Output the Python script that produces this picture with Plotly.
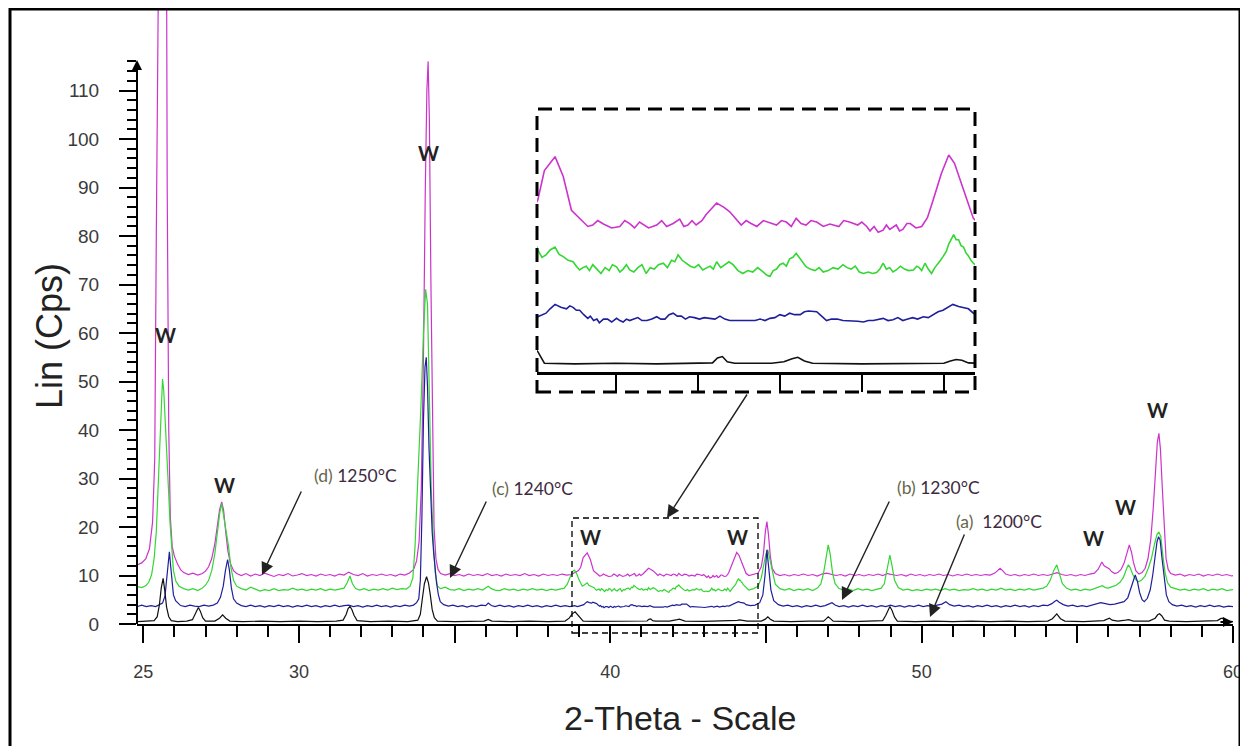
import plotly.graph_objects as go

# ---------------- data (2-theta in degrees, intensity in Cps) ----------------
d_1250 = [(24.82,12.2),(24.95,12.6),(25.08,13.4),(25.2,15.5),(25.3,21.0),(25.37,34.0),(25.42,80.0),(25.46,180.0),(25.55,260.0),(25.65,260.0),(25.73,180.0),(25.77,90.0),(25.82,40.0),(25.87,22.0),(25.93,16.0),(26.0,14.0),(26.1,12.4),(26.2,11.2),(26.3,10.6),(26.45,10.2),(26.6,10.5),(26.75,10.1),(26.9,10.4),(27.0,10.9),(27.1,11.8),(27.2,13.5),(27.3,16.5),(27.38,20.0),(27.45,23.5),(27.52,25.2),(27.58,23.5),(27.65,19.0),(27.72,15.0),(27.8,12.5),(27.9,11.0),(28.0,10.4),(28.15,10.0),(28.3,10.4),(28.45,9.9),(28.6,10.3),(28.75,10.0),(28.9,10.5),(29.05,10.1),(29.2,9.8),(29.35,10.2),(29.5,10.0),(29.65,10.4),(29.8,9.9),(29.95,10.1),(30.1,10.4),(30.25,10.0),(30.4,10.2),(30.55,9.9),(30.7,10.3),(30.85,10.0),(31.0,10.2),(31.15,9.9),(31.3,10.3),(31.45,10.1),(31.6,10.7),(31.75,10.2),(31.9,10.0),(32.05,10.4),(32.2,9.9),(32.35,10.2),(32.5,10.0),(32.65,10.3),(32.8,10.0),(32.95,10.2),(33.1,9.9),(33.25,10.3),(33.4,10.1),(33.55,10.5),(33.68,11.2),(33.78,13.0),(33.86,17.0),(33.93,28.0),(34.0,55.0),(34.06,90.0),(34.11,110.0),(34.15,116.0),(34.19,104.0),(34.24,70.0),(34.29,38.0),(34.34,20.0),(34.4,13.5),(34.47,11.2),(34.55,10.4),(34.7,10.1),(34.85,10.4),(35.0,10.0),(35.15,10.2),(35.3,9.9),(35.45,10.3),(35.6,10.0),(35.75,10.2),(35.9,10.0),(36.05,10.4),(36.2,10.0),(36.35,10.2),(36.5,9.9),(36.65,10.3),(36.8,10.0),(36.95,10.2),(37.1,10.0),(37.25,10.4),(37.4,10.0),(37.55,10.2),(37.7,9.9),(37.85,10.3),(38.0,10.0),(38.15,10.2),(38.3,10.0),(38.45,10.3),(38.6,10.1),(38.75,10.2),(38.88,10.6),(38.98,11.0),
          (39.05,11.7),(39.13,13.7),(39.26,14.65),(39.36,13.3),(39.46,11.0),(39.6,10.2),(39.66,9.9),(39.72,10.0),(39.78,10.3),(39.85,10.07),(39.95,9.8),(40.05,9.9),(40.11,10.3),(40.17,10.1),(40.23,9.8),(40.29,10.2),(40.35,10.0),(40.4,9.8),(40.5,10.0),(40.56,10.3),(40.62,9.9),(40.7,10.1),(40.78,10.4),(40.83,9.9),(40.88,10.0),(40.93,10.3),(40.98,10.0),(41.05,10.3),(41.1,10.7),(41.23,11.5),(41.32,11.2),(41.39,10.9),(41.53,10.0),(41.59,10.3),(41.65,10.1),(41.72,9.9),(41.8,10.3),(41.9,10.1),(41.96,10.0),(42.02,10.3),(42.08,10.2),(42.14,9.9),(42.2,10.45),(42.26,10.1),(42.32,10.0),(42.38,10.3),(42.45,10.2),(42.53,9.9),(42.61,10.07),(42.72,9.9),(42.78,10.3),(42.85,10.2),(42.95,10.0),(43.0,10.2),(43.06,9.9),(43.1,9.6),(43.15,9.9),(43.2,9.5),(43.26,9.65),(43.3,10.0),(43.34,9.7),(43.42,10.0),(43.46,9.6),(43.5,9.7),(43.55,10.1),(43.59,10.1),(43.66,9.8),(43.73,9.9),(43.8,10.5),(43.87,11.7),(43.97,13.5),(44.06,14.76),(44.13,14.2),(44.24,12.4),(44.36,10.45),
          (44.45,10.0),(44.6,10.2),(44.75,10.5),(44.85,11.8),(44.92,14.5),(44.98,19.0),(45.03,21.1),(45.08,18.5),(45.14,14.0),(45.2,11.5),(45.3,10.4),(45.45,10.0),(45.6,10.2),(45.75,9.9),(45.9,10.2),(46.05,10.0),(46.2,10.3),(46.35,10.0),(46.5,10.2),(46.65,9.9),(46.8,10.3),(46.95,10.5),(47.1,10.2),(47.25,10.0),(47.4,10.2),(47.55,9.9),(47.7,10.3),(47.85,10.0),(48.0,10.2),(48.15,9.9),(48.3,10.2),(48.45,10.0),(48.6,10.3),(48.75,10.0),(48.9,10.4),(49.05,10.2),(49.2,10.0),(49.35,10.2),(49.5,9.9),(49.65,10.3),(49.8,10.0),(49.95,10.2),(50.1,9.9),(50.25,10.2),(50.4,10.0),(50.55,10.3),(50.7,10.0),(50.85,10.2),(51.0,9.9),(51.15,10.2),(51.3,10.0),(51.45,10.3),(51.6,10.0),(51.75,10.2),(51.9,10.0),(52.05,10.2),(52.2,10.1),(52.35,10.5),(52.45,11.1),(52.52,11.5),(52.6,11.0),(52.7,10.3),(52.85,10.0),(53.0,10.2),(53.15,9.9),(53.3,10.2),(53.45,10.0),(53.6,10.3),(53.75,10.0),(53.9,10.2),(54.05,10.0),(54.2,10.3),(54.35,10.6),(54.5,10.2),(54.65,10.0),(54.8,10.2),(54.95,9.9),(55.1,10.2),(55.25,10.0),(55.4,10.3),(55.55,10.5),(55.67,11.3),(55.74,12.4),(55.79,12.8),(55.86,12.0),(55.95,11.6),(56.02,11.4),(56.1,10.8),(56.2,10.4),(56.3,10.6),(56.4,11.2),(56.5,12.5),(56.58,14.5),(56.67,16.3),(56.74,14.8),(56.8,12.8),(56.88,11.0),(56.98,10.3),(57.08,10.6),(57.18,11.5),(57.27,13.5),(57.36,17.5),(57.44,24.0),(57.51,32.0),(57.57,37.5),(57.62,39.3),(57.67,36.0),(57.73,28.0),(57.79,19.0),(57.85,13.5),(57.92,11.2),(58.0,10.4),(58.15,10.1),(58.3,10.3),(58.45,9.9),(58.6,10.2),(58.75,10.0),(58.9,10.3),(59.05,9.9),(59.2,10.2),(59.35,10.0),(59.5,10.3),(59.65,10.0),(59.8,10.2),(59.95,9.9),(60.0,10.0)]

c_1240 = [(24.82,7.7),(24.95,7.5),(25.08,7.9),(25.18,8.6),(25.27,10.2),(25.35,13.5),(25.42,19.0),(25.48,28.0),(25.54,38.0),(25.59,46.0),(25.62,50.5),(25.66,48.0),(25.71,42.0),(25.76,35.0),(25.81,28.0),(25.86,21.0),(25.91,15.3),(25.97,11.0),(26.05,8.8),(26.15,7.8),(26.3,7.3),(26.45,7.0),(26.6,7.3),(26.75,6.9),(26.9,7.4),(27.0,8.0),(27.1,9.0),(27.2,11.0),(27.3,14.5),(27.38,18.7),(27.46,23.0),(27.52,24.8),(27.58,22.5),(27.66,19.0),(27.74,16.0),(27.82,11.5),(27.9,9.0),(28.0,7.8),(28.15,7.3),(28.3,7.0),(28.45,7.6),(28.6,7.2),(28.75,6.8),(28.9,7.1),(29.05,6.9),(29.2,7.3),(29.35,6.9),(29.5,7.1),(29.65,7.0),(29.8,7.4),(29.95,7.0),(30.1,7.2),(30.25,6.9),(30.4,7.2),(30.55,7.0),(30.7,7.3),(30.85,6.9),(31.0,7.2),(31.15,7.0),(31.3,7.2),(31.45,7.4),(31.55,8.5),(31.64,9.9),(31.72,8.3),(31.82,7.3),(31.95,7.0),(32.1,7.3),(32.25,6.9),(32.4,7.2),(32.55,7.0),(32.7,7.3),(32.85,7.0),(33.0,7.4),(33.15,7.1),(33.3,7.3),(33.45,7.2),(33.57,7.8),(33.66,9.5),(33.73,16.0),(33.78,24.0),(33.85,33.0),(33.92,45.0),(34.0,60.0),(34.07,69.0),(34.13,66.0),(34.19,48.0),(34.25,28.0),(34.32,16.6),(34.38,10.5),(34.45,7.8),(34.55,7.3),(34.7,7.6),(34.85,7.1),(35.0,7.0),(35.15,7.3),(35.3,6.9),(35.45,7.2),(35.6,7.0),(35.75,7.3),(35.9,7.0),(36.0,7.4),(36.08,7.8),(36.18,7.3),(36.3,7.0),(36.45,6.9),(36.6,7.3),(36.75,7.0),(36.9,7.2),(37.05,6.9),(37.2,7.2),(37.35,7.0),(37.5,7.3),(37.65,7.0),(37.8,7.2),(37.95,6.9),(38.1,7.2),(38.25,7.0),(38.4,7.3),(38.52,7.4),(38.62,8.2),(38.7,9.5),(38.78,10.8),(38.85,11.1),(38.92,10.4),(38.99,9.2),
          (39.05,8.3),(39.1,7.8),(39.15,7.97),(39.2,8.3),(39.26,8.5),(39.31,8.0),(39.36,7.85),(39.42,7.6),(39.48,7.5),(39.52,7.2),(39.56,6.94),(39.6,7.1),(39.64,7.2),(39.68,6.9),(39.72,7.3),(39.77,7.0),(39.82,6.7),(39.87,7.1),(39.92,6.9),(39.96,7.3),(40.01,7.16),(40.05,6.8),(40.09,7.0),(40.13,7.3),(40.17,6.94),(40.22,6.8),(40.27,7.1),(40.32,7.3),(40.37,6.7),(40.42,7.1),(40.47,7.0),(40.52,7.3),(40.58,7.4),(40.63,7.1),(40.68,7.6),(40.72,7.5),(40.76,7.97),(40.81,7.6),(40.86,7.4),(40.91,7.2),(40.96,7.1),(41.01,7.3),(41.06,6.94),(41.11,7.1),(41.15,7.2),(41.19,7.0),(41.23,7.5),(41.28,7.1),(41.33,7.3),(41.38,7.5),(41.43,7.3),(41.49,6.9),(41.55,6.7),(41.61,6.9),(41.67,6.8),(41.73,7.1),(41.8,6.8),(41.84,6.6),(41.88,6.5),(41.92,6.9),(41.96,7.0),(42.0,7.3),(42.04,7.4),(42.08,7.2),(42.12,7.7),(42.16,7.8),(42.2,8.07),(42.26,7.6),(42.32,7.16),(42.37,7.0),(42.43,6.9),(42.48,7.1),(42.53,6.8),(42.59,6.9),(42.65,7.1),(42.71,7.0),(42.77,7.3),(42.82,7.1),(42.87,7.0),(42.92,7.2),(42.97,6.8),(43.02,6.7),(43.08,6.8),(43.13,6.7),(43.18,6.76),(43.22,7.0),(43.26,7.4),(43.3,7.0),(43.34,7.1),(43.38,6.8),(43.42,6.94),(43.47,7.2),(43.52,7.0),(43.57,6.9),(43.63,6.94),(43.67,7.2),(43.7,7.1),(43.73,6.9),(43.77,7.4),(43.81,7.0),(43.85,6.7),(43.89,7.1),(43.92,7.3),(43.96,7.6),(43.99,7.85),(44.03,8.2),(44.06,8.7),(44.09,9.0),(44.12,9.35),(44.15,9.0),(44.18,9.0),(44.21,8.6),(44.24,8.5),(44.27,8.1),(44.3,7.9),(44.33,7.6),(44.36,7.4),
          (44.45,7.0),(44.6,7.3),(44.75,7.8),(44.85,9.5),(44.93,12.0),(45.0,14.5),(45.06,15.3),(45.12,13.5),(45.2,10.5),(45.3,8.2),(45.45,7.3),(45.6,7.0),(45.75,7.3),(45.9,6.9),(46.05,7.2),(46.2,7.0),(46.35,7.3),(46.5,6.9),(46.65,7.4),(46.76,8.2),(46.85,10.5),(46.93,14.0),(47.0,16.3),(47.06,14.5),(47.14,10.5),(47.22,8.3),(47.35,7.3),(47.5,7.0),(47.65,7.2),(47.8,6.9),(47.95,7.3),(48.1,7.0),(48.25,7.2),(48.4,6.9),(48.55,7.2),(48.7,7.4),(48.8,8.3),(48.9,11.5),(48.98,14.2),(49.05,12.0),(49.13,9.0),(49.25,7.5),(49.4,7.0),(49.55,7.2),(49.7,6.9),(49.85,7.1),(50.0,6.9),(50.15,7.2),(50.3,7.0),(50.45,7.2),(50.6,6.9),(50.75,7.3),(50.9,7.0),(51.05,7.2),(51.2,6.9),(51.35,7.1),(51.5,7.0),(51.65,7.3),(51.8,7.0),(51.95,7.2),(52.1,6.9),(52.25,7.2),(52.4,7.0),(52.55,7.4),(52.7,7.0),(52.85,7.2),(53.0,6.9),(53.15,7.2),(53.3,7.0),(53.45,7.3),(53.6,7.0),(53.75,7.2),(53.9,7.4),(54.02,7.8),(54.13,9.0),(54.24,11.0),(54.34,12.2),(54.42,10.5),(54.52,8.3),(54.65,7.4),(54.8,7.0),(54.95,7.2),(55.1,6.9),(55.25,7.2),(55.4,7.0),(55.55,7.3),(55.7,7.6),(55.8,7.9),(55.9,7.5),(56.0,7.4),(56.12,7.7),(56.25,8.0),(56.37,8.6),(56.48,9.6),(56.57,11.2),(56.64,12.2),(56.7,11.6),(56.78,10.2),(56.87,9.2),(56.96,8.7),(57.06,9.0),(57.17,9.8),(57.28,11.5),(57.38,13.5),(57.48,16.5),(57.56,18.5),(57.62,19.0),(57.68,18.0),(57.75,14.0),(57.82,10.5),(57.9,8.5),(58.0,7.6),(58.15,7.3),(58.3,7.0),(58.45,7.2),(58.6,6.9),(58.75,7.2),(58.9,7.0),(59.05,7.3),(59.2,6.9),(59.35,7.2),(59.5,7.0),(59.65,7.3),(59.8,6.9),(60.0,7.1)]

b_1230 = [(24.82,3.6),(24.95,3.9),(25.1,3.6),(25.25,3.8),(25.4,3.6),(25.52,3.9),(25.62,4.3),(25.7,5.8),(25.76,9.5),(25.81,13.0),(25.84,14.9),(25.88,12.0),(25.92,8.5),(25.97,6.0),(26.04,4.8),(26.12,4.2),(26.2,3.8),(26.35,3.6),(26.5,3.9),(26.65,3.7),(26.8,3.6),(26.95,3.9),(27.1,3.7),(27.25,3.9),(27.38,4.3),(27.48,5.5),(27.57,7.8),(27.64,11.0),(27.71,13.3),(27.77,11.0),(27.83,7.5),(27.9,5.2),(28.0,4.3),(28.15,3.8),(28.3,3.6),(28.45,3.9),(28.6,3.6),(28.75,3.8),(28.9,3.5),(29.05,3.8),(29.2,3.6),(29.35,3.9),(29.5,3.6),(29.65,3.8),(29.8,3.5),(29.95,3.8),(30.1,3.6),(30.25,3.9),(30.4,3.6),(30.55,3.8),(30.7,3.5),(30.85,3.8),(31.0,3.6),(31.15,3.9),(31.3,3.6),(31.45,3.8),(31.6,3.9),(31.75,3.6),(31.9,3.8),(32.05,3.5),(32.2,3.8),(32.35,3.6),(32.5,3.9),(32.65,3.6),(32.8,3.8),(32.95,3.5),(33.1,3.8),(33.25,3.6),(33.4,3.9),(33.55,3.7),(33.68,3.9),(33.78,4.4),(33.85,5.2),(33.9,9.0),(33.95,22.0),(34.0,42.0),(34.05,53.0),(34.09,55.0),(34.13,49.0),(34.18,36.0),(34.23,26.0),(34.28,19.0),(34.33,14.5),(34.37,11.8),(34.42,8.5),(34.48,6.0),(34.54,4.6),(34.65,4.0),(34.8,3.7),(34.95,3.9),(35.1,3.6),(35.25,3.8),(35.4,3.5),(35.55,3.8),(35.7,3.6),(35.85,3.9),(36.0,3.8),(36.08,4.3),(36.18,3.8),(36.3,3.6),(36.45,3.9),(36.6,3.6),(36.75,3.8),(36.9,3.5),(37.05,3.8),(37.2,3.6),(37.35,3.9),(37.5,3.6),(37.65,3.8),(37.8,3.5),(37.95,3.8),(38.1,3.6),(38.25,3.9),(38.4,3.6),(38.55,3.8),(38.7,3.6),(38.85,3.8),(38.95,3.6),
          (39.05,3.76),(39.1,3.9),(39.15,4.0),(39.2,4.3),(39.26,4.6),(39.33,4.4),(39.4,4.3),(39.44,4.5),(39.48,4.4),(39.52,4.2),(39.56,4.2),(39.61,3.9),(39.66,3.65),(39.69,3.8),(39.73,3.5),(39.77,3.6),(39.8,3.35),(39.85,3.6),(39.9,3.6),(39.95,3.4),(40.01,3.65),(40.05,3.5),(40.09,3.4),(40.13,3.6),(40.17,3.5),(40.22,3.6),(40.27,3.7),(40.32,3.5),(40.38,3.5),(40.44,3.6),(40.5,3.76),(40.55,3.6),(40.6,3.6),(40.65,3.9),(40.7,4.0),(40.75,3.8),(40.8,3.8),(40.85,3.6),(40.9,3.76),(40.96,3.7),(41.02,3.6),(41.08,3.7),(41.15,3.65),(41.21,3.6),(41.27,3.8),(41.33,3.6),(41.39,3.5),(41.46,3.5),(41.52,3.55),(41.58,3.5),(41.64,3.5),(41.7,3.5),(41.76,3.6),(41.82,3.5),(41.88,3.65),(41.94,3.7),(42.0,3.9),(42.06,3.8),(42.12,4.0),(42.18,3.9),(42.25,3.9),(42.3,4.1),(42.35,4.15),(42.4,4.1),(42.45,4.1),(42.51,3.8),(42.57,3.5),(42.63,3.6),(42.7,3.6),(42.77,3.5),(42.85,3.5),(42.9,3.5),(42.95,3.45),(43.02,3.4),(43.08,3.5),(43.14,3.5),(43.2,3.6),(43.26,3.65),(43.32,3.5),(43.38,3.55),(43.44,3.7),(43.5,3.5),(43.56,3.6),(43.62,3.7),(43.68,3.6),(43.75,3.76),(43.81,3.7),(43.87,3.9),(43.93,4.1),(43.99,4.2),(44.05,4.4),(44.11,4.6),(44.18,4.45),(44.24,4.4),(44.3,4.3),(44.36,4.0),
          (44.5,3.8),(44.65,3.9),(44.8,4.4),(44.9,6.0),(44.97,10.0),(45.03,15.3),(45.09,11.0),(45.16,7.0),(45.25,4.8),(45.4,4.0),(45.55,3.7),(45.7,3.9),(45.85,3.6),(46.0,3.8),(46.15,3.5),(46.3,3.8),(46.45,3.6),(46.6,3.9),(46.75,3.6),(46.9,3.8),(47.05,4.2),(47.12,4.4),(47.22,3.9),(47.35,3.6),(47.5,3.8),(47.65,3.5),(47.8,3.8),(47.95,3.6),(48.1,3.9),(48.25,3.6),(48.4,3.8),(48.55,3.5),(48.7,3.8),(48.85,3.6),(49.0,3.9),(49.15,3.6),(49.3,3.8),(49.45,3.5),(49.6,3.8),(49.75,3.6),(49.9,3.9),(50.05,3.6),(50.2,3.8),(50.35,3.6),(50.5,3.9),(50.65,4.1),(50.78,4.6),(50.9,4.0),(51.05,3.7),(51.2,3.9),(51.35,3.6),(51.5,3.8),(51.65,3.5),(51.8,3.8),(51.95,3.6),(52.1,3.9),(52.25,3.6),(52.4,3.8),(52.55,3.5),(52.7,3.8),(52.85,3.6),(53.0,3.9),(53.15,3.6),(53.3,3.8),(53.45,3.5),(53.6,3.8),(53.75,3.6),(53.9,3.9),(54.05,3.8),(54.18,4.2),(54.28,4.7),(54.34,4.9),(54.42,4.5),(54.55,4.0),(54.7,3.7),(54.85,3.9),(55.0,3.6),(55.15,3.8),(55.3,3.6),(55.45,3.9),(55.6,4.1),(55.75,4.4),(55.9,4.2),(56.05,4.0),(56.2,4.1),(56.35,4.3),(56.5,4.6),(56.62,5.4),(56.72,7.5),(56.8,9.3),(56.86,10.1),(56.93,8.8),(57.0,6.5),(57.08,5.0),(57.15,4.6),(57.25,5.3),(57.34,7.0),(57.42,10.0),(57.5,14.0),(57.56,17.0),(57.61,18.0),(57.66,17.3),(57.72,13.5),(57.79,9.0),(57.86,6.0),(57.94,4.6),(58.05,4.0),(58.2,3.7),(58.35,3.9),(58.5,3.6),(58.65,3.8),(58.8,3.5),(58.95,3.8),(59.1,3.6),(59.25,3.9),(59.4,3.6),(59.55,3.8),(59.7,3.5),(59.85,3.7),(60.0,3.6)]

a_1200 = [(24.82,0.5),(25.1,0.6),(25.35,0.7),(25.45,1.5),(25.52,4.0),(25.58,7.5),(25.64,9.4),(25.69,7.0),(25.75,3.5),(25.82,1.5),(25.9,0.7),(26.1,0.5),(26.4,0.6),(26.58,0.9),(26.67,2.0),(26.73,3.0),(26.77,3.4),(26.83,2.7),(26.91,1.3),(27.0,0.6),(27.3,0.6),(27.45,1.2),(27.55,1.9),(27.65,1.2),(27.78,0.6),(28.2,0.5),(28.8,0.6),(29.4,0.5),(30.0,0.6),(30.6,0.5),(31.2,0.6),(31.42,0.8),(31.52,2.0),(31.58,3.2),(31.64,3.6),(31.7,3.0),(31.77,1.8),(31.87,0.7),(32.3,0.5),(32.9,0.6),(33.5,0.5),(33.82,0.8),(33.9,2.0),(33.96,5.0),(34.03,8.3),(34.1,9.75),(34.16,8.5),(34.22,6.0),(34.28,3.0),(34.35,1.3),(34.45,0.6),(35.0,0.5),(35.6,0.6),(35.95,0.6),(36.08,0.95),(36.2,0.6),(36.8,0.5),(37.4,0.6),(38.0,0.5),(38.55,0.6),(38.68,1.2),(38.78,2.1),(38.87,2.5),(38.95,1.9),
          (39.05,1.38),(39.13,0.6),(39.5,0.55),(40.0,0.6),(40.5,0.55),(41.0,0.6),(41.18,0.62),(41.24,0.95),(41.3,1.05),(41.36,0.7),(41.45,0.6),(41.9,0.6),(42.05,0.7),(42.15,0.9),(42.22,1.0),(42.3,0.75),(42.4,0.6),(43.0,0.55),(43.5,0.6),(44.0,0.6),(44.08,0.75),(44.15,0.85),(44.22,0.8),(44.3,0.62),(44.4,0.6),
          (44.85,0.6),(44.98,1.0),(45.06,1.5),(45.14,1.0),(45.25,0.6),(45.8,0.5),(46.4,0.6),(46.85,0.6),(46.94,1.1),(47.0,1.5),(47.07,1.1),(47.16,0.6),(47.8,0.5),(48.4,0.6),(48.75,0.7),(48.85,1.8),(48.92,3.0),(48.98,3.6),(49.05,2.8),(49.13,1.4),(49.22,0.6),(49.8,0.5),(50.4,0.6),(51.0,0.5),(51.6,0.6),(52.2,0.5),(52.8,0.6),(53.4,0.5),(54.05,0.6),(54.2,1.1),(54.34,2.1),(54.46,1.1),(54.6,0.6),(55.2,0.5),(55.85,0.7),(55.95,1.0),(56.03,1.2),(56.12,0.8),(56.3,0.6),(56.55,0.8),(56.65,0.9),(56.8,0.6),(57.3,0.6),(57.5,1.2),(57.58,1.9),(57.64,2.1),(57.71,1.7),(57.8,0.8),(57.95,0.6),(58.5,0.5),(59.1,0.6),(59.5,0.7),(59.6,1.1),(59.66,1.2),(59.74,0.8),(59.85,0.6),(60.0,0.5)]

series = [("(d) 1250°C", d_1250, "#cc33cc"),
          ("(c) 1240°C", c_1240, "#33d633"),
          ("(b) 1230°C", b_1230, "#1f1f9c"),
          ("(a) 1200°C", a_1200, "#111111")]

x_tick_vals = [25, 30, 35, 40, 45, 50, 55, 60]
x_tick_text = ["25", "30", "", "40", "", "50", "", "60"]
x_minor_vals = [v for v in range(25, 61) if v % 5]
y_tick_vals = list(range(0, 111, 10))
y_minor_vals = [v for v in range(2, 117, 2) if v % 10]
inset_tick_vals = [40, 41, 42, 43, 44]

# 'W' (wollastonite) peak labels: (2-theta, Cps)
w_labels = [(25.73, 59.6), (27.6, 28.7), (34.15, 97.1), (39.38, 17.9),
            (44.1, 17.9), (55.53, 17.7), (56.56, 24.1), (57.59, 44.1)]

# ---------------- layout geometry (screen pixels; page body adds an 8 px offset) ----------------
OFF = 8
W, H = 1248 - OFF, 746 - OFF
PL, PR, PT, PB = 137, 1233, 10, 624          # plot area edges on screen
X_RANGE = [24.8, 60.0]
Y_RANGE = [0, (PB - PT) / 4.85]


def px(xs):
    return (xs - PL) / (PR - PL)


def py(ys):
    return (PB - ys) / (PB - PT)


fig = go.Figure()
for name, pts, col in series:
    fig.add_trace(go.Scatter(x=[p[0] for p in pts], y=[p[1] for p in pts], mode="lines", name=name,
                             line=dict(color=col, width=1.2), showlegend=False,
                             xaxis="x", yaxis="y"))
for name, pts, col in series:
    fig.add_trace(go.Scatter(x=[p[0] for p in pts], y=[p[1] for p in pts], mode="lines", name=name,
                             line=dict(color=col, width=1.6), showlegend=False,
                             xaxis="x2", yaxis="y2"))

tick_font = dict(family="Liberation Sans, Arial", size=18, color="#3a3a3a")

fig.update_layout(
    width=W, height=H,
    margin=dict(l=PL - OFF, r=(W + OFF) - PR, t=PT - OFF, b=(H + OFF) - PB),
    paper_bgcolor="white", plot_bgcolor="white",
    xaxis=dict(range=X_RANGE, showline=True, linecolor="black", linewidth=2,
               ticks="outside", tickvals=x_tick_vals, ticktext=x_tick_text,
               ticklen=17, tickwidth=1.5, tickcolor="black",
               minor=dict(tickmode="array", tickvals=x_minor_vals, ticks="outside",
                          ticklen=11, tickwidth=1.5, tickcolor="black"),
               showgrid=False, zeroline=False, tickfont=tick_font,
               ticklabelstandoff=13),
    yaxis=dict(range=Y_RANGE, showline=False, ticks="outside",
               tickvals=y_tick_vals, ticklen=17, tickwidth=1.5, tickcolor="black",
               minor=dict(tickmode="array", tickvals=y_minor_vals, ticks="outside",
                          ticklen=9, tickwidth=1.5, tickcolor="black"),
               showgrid=False, zeroline=False, tickfont=dict(tick_font, size=19),
               ticklabelstandoff=16),
    xaxis2=dict(domain=[px(537), px(975)], anchor="y2", range=[39.04, 44.38],
                showline=True, linecolor="black", linewidth=3,
                ticks="outside", tickvals=inset_tick_vals, ticklen=17,
                tickwidth=2, tickcolor="black", showticklabels=False,
                showgrid=False, zeroline=False),
    yaxis2=dict(domain=[py(372), py(109)], anchor="x2", range=[0, (372 - 109) / 14.7],
                visible=False),
)

shapes = []
# y axis line (stops below the top of the plotting area)
shapes.append(dict(type="line", xref="paper", yref="paper", x0=0, x1=0, y0=0, y1=py(64),
                   line=dict(color="black", width=2)))
# inset frame
shapes.append(dict(type="rect", xref="paper", yref="paper", x0=px(537), x1=px(975),
                   y0=py(392), y1=py(109), line=dict(color="black", width=3, dash="14px,8px")))
# zoomed region marker on main plot
shapes.append(dict(type="rect", xref="paper", yref="paper", x0=px(572), x1=px(758),
                   y0=py(633), y1=py(518), line=dict(color="black", width=1.3, dash="6px,4px")))
# outer frame of the figure
shapes.append(dict(type="rect", xref="paper", yref="paper", x0=px(10), x1=px(1240),
                   y0=py(770), y1=py(9), line=dict(color="black", width=3)))
fig.update_layout(shapes=shapes)

ann = []
# axis end arrows
ann.append(dict(xref="paper", yref="paper", x=0, y=py(60), ax=0, ay=14, text="",
                showarrow=True, arrowhead=2, arrowsize=1, arrowwidth=2, arrowcolor="black"))
ann.append(dict(xref="paper", yref="paper", x=1, y=py(622), ax=-14, ay=0, text="",
                showarrow=True, arrowhead=2, arrowsize=1, arrowwidth=2, arrowcolor="black"))

# W labels
for wx, wy in w_labels:
    ann.append(dict(xref="x", yref="y", x=wx, y=wy, text="<b>W</b>", showarrow=False,
                    font=dict(family="Lato, Carlito, sans-serif", size=20, color="#222222"),
                    xanchor="center", yanchor="middle"))

lab_font = dict(family="Lato, Carlito, sans-serif", size=17.5)
labels = [("(d)", "1250°C", 355, 475), ("(c)", "1240°C", 532, 488),
          ("(b)", "1230°C", 938, 487), ("(a)", "&nbsp;1200°C", 999, 521)]
for p, t, cx, cy in labels:
    ann.append(dict(xref="paper", yref="paper", x=px(cx), y=py(cy),
                    text=f"<span style='color:#66664a'>{p}</span> <span style='color:#3e2a40'>{t}</span>",
                    showarrow=False, font=lab_font, xanchor="center", yanchor="middle"))

arrows = [((302, 490), (262, 575)), ((487, 500), (450, 578)), ((890, 500), (842, 600)),
          ((965, 533), (930, 617)), ((748, 393), (667, 518))]
for (tx, ty), (hx, hy) in arrows:
    ann.append(dict(xref="paper", yref="paper", x=px(hx), y=py(hy), ax=tx - hx, ay=ty - hy,
                    axref="pixel", ayref="pixel", text="", showarrow=True, arrowhead=2,
                    arrowsize=1.8, arrowwidth=1.4, arrowcolor="#222222", standoff=0))

# axis titles
ann.append(dict(xref="paper", yref="paper", x=px(49), y=py(336), text="Lin (Cps)", textangle=-90,
                showarrow=False, font=dict(family="Liberation Sans, Arial", size=36, color="#222222"),
                xanchor="center", yanchor="middle"))
ann.append(dict(xref="paper", yref="paper", x=px(680), y=py(718), text="2-Theta - Scale",
                showarrow=False, font=dict(family="Liberation Sans, Arial", size=34, color="#222222"),
                xanchor="center", yanchor="middle"))
fig.update_layout(annotations=ann)

fig.write_html("out.html")
